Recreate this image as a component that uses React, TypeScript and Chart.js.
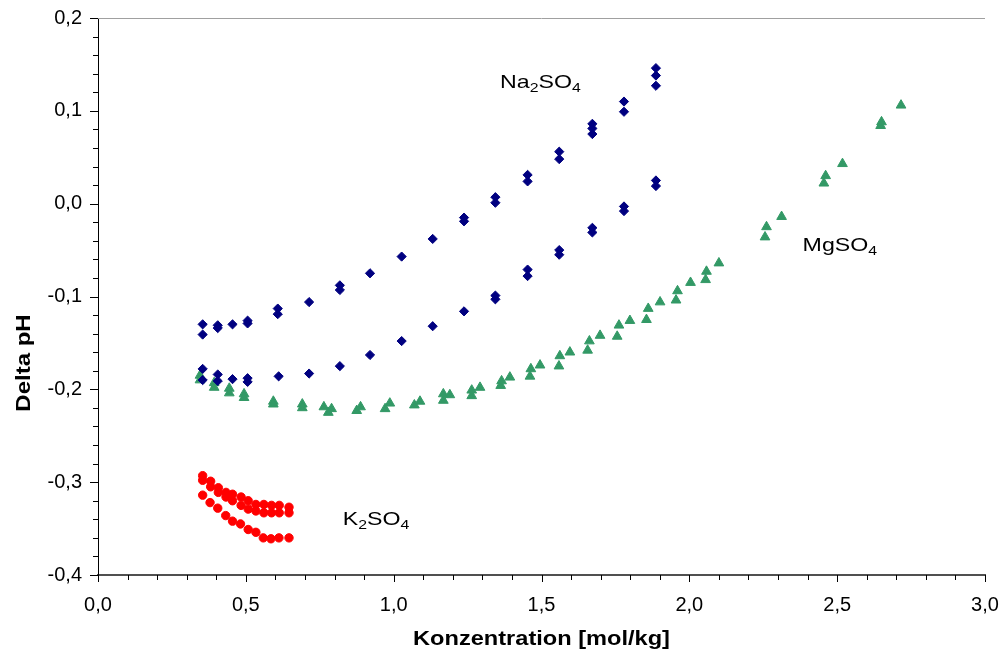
import React, { useEffect, useRef } from 'react';
import { Chart, registerables } from 'chart.js';

Chart.register(...registerables);

// ---------- data ----------
const naX = [
  0.354, 0.354, 0.405, 0.405, 0.455, 0.506, 0.506, 0.608, 0.608, 0.714, 0.818, 0.818, 0.92, 1.027, 1.132,
  1.238, 1.238, 1.344, 1.344, 1.453, 1.453, 1.56, 1.56, 1.672, 1.672, 1.672, 1.779, 1.779, 1.887, 1.887, 1.887,
  0.354, 0.354, 0.405, 0.405, 0.455, 0.506, 0.506, 0.611, 0.714, 0.818, 0.92, 1.027, 1.132, 1.238,
  1.344, 1.344, 1.453, 1.453, 1.56, 1.56, 1.672, 1.672, 1.779, 1.779, 1.887, 1.887,
];
const naY = [
  -0.13, -0.141, -0.131, -0.134, -0.13, -0.126, -0.129, -0.113, -0.119, -0.106, -0.088, -0.093, -0.075, -0.057, -0.038,
  -0.015, -0.019, 0.007, 0.001, 0.031, 0.024, 0.056, 0.048, 0.086, 0.081, 0.075, 0.11, 0.099, 0.146, 0.138, 0.127,
  -0.178, -0.19, -0.184, -0.191, -0.189, -0.188, -0.192, -0.186, -0.183, -0.175, -0.163, -0.148, -0.132, -0.116,
  -0.099, -0.103, -0.071, -0.078, -0.05, -0.055, -0.026, -0.031, -0.003, -0.008, 0.025, 0.019,
];

const mgX = [
  0.345, 0.345, 0.393, 0.393, 0.444, 0.444, 0.494, 0.494, 0.593, 0.593, 0.691, 0.691, 0.764, 0.779, 0.79,
  0.875, 0.888, 0.971, 0.987, 1.07, 1.089, 1.168, 1.168, 1.19, 1.264, 1.264, 1.292, 1.362, 1.365, 1.393,
  1.461, 1.464, 1.495, 1.559, 1.562, 1.596, 1.656, 1.662, 1.698, 1.756, 1.762, 1.799, 1.855, 1.861, 1.901,
  1.955, 1.96, 2.004, 2.055, 2.058, 2.1, 2.256, 2.261, 2.312, 2.455, 2.461, 2.518, 2.647, 2.65, 2.716,
];
const mgY = [
  -0.185, -0.19, -0.193, -0.198, -0.199, -0.204, -0.205, -0.209, -0.213, -0.216, -0.216, -0.22, -0.219, -0.225, -0.221,
  -0.223, -0.219, -0.221, -0.215, -0.217, -0.213, -0.212, -0.205, -0.206, -0.207, -0.201, -0.198, -0.196, -0.191, -0.187,
  -0.186, -0.178, -0.174, -0.175, -0.164, -0.16, -0.158, -0.148, -0.142, -0.143, -0.131, -0.126, -0.125, -0.113, -0.106,
  -0.104, -0.094, -0.085, -0.082, -0.073, -0.064, -0.036, -0.025, -0.014, 0.022, 0.03, 0.043, 0.084, 0.088, 0.106,
];

const kX = [
  0.354, 0.354, 0.381, 0.381, 0.407, 0.407, 0.433, 0.433, 0.455, 0.455, 0.484, 0.484, 0.508, 0.508, 0.534, 0.534,
  0.561, 0.561, 0.587, 0.587, 0.613, 0.613, 0.646, 0.646,
  0.354, 0.379, 0.405, 0.432, 0.455, 0.482, 0.508, 0.534, 0.559, 0.585, 0.612, 0.646,
];
const kY = [
  -0.293, -0.298, -0.299, -0.305, -0.306, -0.311, -0.311, -0.316, -0.313, -0.32, -0.316, -0.325, -0.32, -0.329, -0.324, -0.331,
  -0.324, -0.333, -0.325, -0.333, -0.325, -0.333, -0.327, -0.333,
  -0.314, -0.322, -0.328, -0.336, -0.342, -0.345, -0.351, -0.354, -0.36, -0.361, -0.36, -0.36,
];

const seriesNames = ['Na2SO4', 'MgSO4', 'K2SO4'];
const labelX = [1.36, 2.383, 0.828];
const labelY = [0.125, -0.0506, -0.346];

const xRange = [0, 3];
const xMajorStep = 0.5;
const xMinorStep = 0.1;
const yRange = [-0.4, 0.2];
const yMajorStep = 0.1;
const yMinorStep = 0.02;

const xTitle = 'Konzentration [mol/kg]';
const yTitle = 'Delta pH';

// ---------- helpers ----------
const FONT = '"Liberation Sans", Arial, sans-serif';
const fmt = (v: number) => (Math.abs(v) < 1e-9 ? 0 : v).toFixed(1).replace('.', ',');
const toPts = (xs: number[], ys: number[]) => xs.map((x, i) => ({ x, y: ys[i] }));

function drawFormula(ctx: CanvasRenderingContext2D, text: string, x: number, y: number) {
  const parts = text.split(/(\d+)/).filter((s) => s.length > 0);
  ctx.save();
  ctx.translate(x, y);
  ctx.scale(1.22, 1);
  ctx.fillStyle = '#000';
  ctx.textAlign = 'left';
  ctx.textBaseline = 'alphabetic';
  let cx = 0;
  for (const p of parts) {
    const sub = /^\d+$/.test(p);
    ctx.font = sub ? `13px ${FONT}` : `19px ${FONT}`;
    ctx.fillText(p, cx, sub ? 4 : 0);
    cx += ctx.measureText(p).width;
  }
  ctx.restore();
}

const decor = {
  id: 'decor',
  afterDraw(chart: any) {
    const { ctx, chartArea: a, scales } = chart;
    const xs = scales.x;
    const ys = scales.y;
    ctx.save();
    ctx.strokeStyle = '#a0a0a0';
    ctx.lineWidth = 1;
    ctx.beginPath();
    ctx.moveTo(a.left, Math.round(a.top) + 0.5);
    ctx.lineTo(a.right, Math.round(a.top) + 0.5);
    ctx.stroke();

    ctx.strokeStyle = '#000';
    ctx.beginPath();
    const ny = Math.round((yRange[1] - yRange[0]) / yMinorStep);
    const perY = Math.round(yMajorStep / yMinorStep);
    for (let i = 0; i <= ny; i++) {
      const v = yRange[0] + i * yMinorStep;
      const p = Math.round(ys.getPixelForValue(v)) + 0.5;
      const len = i % perY === 0 ? 8 : 5;
      ctx.moveTo(a.left - len, p);
      ctx.lineTo(a.left, p);
    }
    const nx = Math.round((xRange[1] - xRange[0]) / xMinorStep);
    const perX = Math.round(xMajorStep / xMinorStep);
    for (let i = 0; i <= nx; i++) {
      const v = xRange[0] + i * xMinorStep;
      const p = Math.round(xs.getPixelForValue(v)) + 0.5;
      const len = i % perX === 0 ? 7 : 5;
      ctx.moveTo(p, a.bottom);
      ctx.lineTo(p, a.bottom + len);
    }
    ctx.stroke();

    ctx.fillStyle = '#000';
    ctx.font = `bold 20px ${FONT}`;
    ctx.textAlign = 'center';
    ctx.textBaseline = 'alphabetic';
    ctx.save();
    ctx.translate((a.left + a.right) / 2, 645);
    ctx.scale(1.18, 1);
    ctx.fillText(xTitle, 0, 0);
    ctx.restore();

    ctx.save();
    ctx.translate(30, 363);
    ctx.rotate(-Math.PI / 2);
    ctx.scale(1.2, 1);
    ctx.fillText(yTitle, 0, 0);
    ctx.restore();

    seriesNames.forEach((n, i) => {
      drawFormula(ctx, n, xs.getPixelForValue(labelX[i]), ys.getPixelForValue(labelY[i]));
    });
    ctx.restore();
  },
};

export default function App() {
  const ref = useRef<HTMLCanvasElement | null>(null);
  useEffect(() => {
    if (!ref.current) return;
    const chart = new Chart(ref.current, {
      type: 'scatter',
      data: {
        datasets: [
          { label: seriesNames[0], data: toPts(naX, naY), pointStyle: 'rectRot', pointRadius: 4.6, backgroundColor: '#000080', borderColor: '#000080', borderWidth: 1 },
          { label: seriesNames[1], data: toPts(mgX, mgY), pointStyle: 'triangle', pointRadius: 5.6, backgroundColor: '#339966', borderColor: '#339966', borderWidth: 1 },
          { label: seriesNames[2], data: toPts(kX, kY), pointStyle: 'circle', pointRadius: 4.2, backgroundColor: '#ff0000', borderColor: '#ff0000', borderWidth: 1 },
        ],
      },
      options: {
        animation: false,
        responsive: false,
        layout: { autoPadding: false, padding: { left: 0, right: 14, top: 18, bottom: 0 } },
        plugins: { legend: { display: false }, tooltip: { enabled: false } },
        scales: {
          x: {
            type: 'linear',
            min: xRange[0],
            max: xRange[1],
            afterFit: (s: any) => {
              s.height = 79;
              s.paddingLeft = 0;
              s.paddingRight = 0;
            },
            ticks: {
              stepSize: xMajorStep,
              callback: (v: any) => fmt(Number(v)),
              font: { family: FONT, size: 20 },
              color: '#000',
              padding: 18,
              maxRotation: 0,
            },
            grid: { drawOnChartArea: false, drawTicks: false },
            border: { display: true, color: '#505050', width: 2 },
          },
          y: {
            type: 'linear',
            min: yRange[0],
            max: yRange[1],
            afterFit: (s: any) => {
              s.width = 98;
              s.paddingTop = 0;
              s.paddingBottom = 0;
            },
            ticks: {
              stepSize: yMajorStep,
              callback: (v: any) => fmt(Number(v)),
              font: { family: FONT, size: 20 },
              color: '#000',
              padding: 16,
            },
            grid: { drawOnChartArea: false, drawTicks: false },
            border: { display: true, color: '#000', width: 1 },
          },
        },
      },
      plugins: [decor],
    });
    return () => chart.destroy();
  }, []);
  return (
    <div style={{ position: 'absolute', left: 0, top: 0, width: 999, height: 654, background: '#fff' }}>
      <canvas ref={ref} width={999} height={654} />
    </div>
  );
}
